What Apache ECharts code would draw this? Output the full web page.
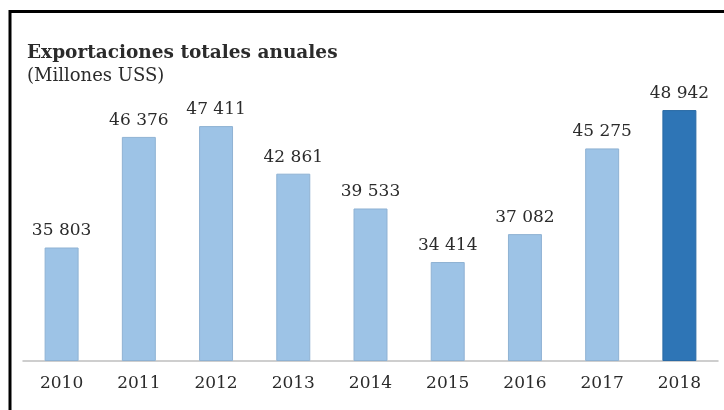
<!DOCTYPE html>
<html>
<head>
<meta charset="utf-8">
<script src="https://cdn.jsdelivr.net/npm/echarts@6/dist/echarts.min.js"></script>
<style>
html,body{margin:0;padding:0;background:#fff;}
#chart{width:724px;height:410px;}
</style>
</head>
<body>
<div id="chart"></div>
<script>
// Annual export totals, millions of US$
const years = ['2010','2011','2012','2013','2014','2015','2016','2017','2018'];
const exportsTotal = [35803, 46376, 47411, 42861, 39533, 34414, 37082, 45275, 48942];
const highlightYear = '2018';

const lightBlue = '#9dc3e6';
const darkBlue = '#2e75b6';
const serif = '"DejaVu Serif", "Liberation Serif", serif';

function groupThousands(v) {
  return String(v).replace(/\B(?=(\d{3})+(?!\d))/g, ' ');
}

const chart = echarts.init(document.getElementById('chart'));
chart.setOption({
  animation: false,
  backgroundColor: '#ffffff',
  title: [
    {
      text: 'Exportaciones totales anuales',
      left: 22, top: 39,
      textStyle: { fontFamily: serif, fontWeight: 'bold', fontSize: 18.5, color: '#2b2b2b' }
    },
    {
      text: '(Millones USS)',
      left: 22, top: 62,
      textStyle: { fontFamily: serif, fontWeight: 'normal', fontSize: 18, color: '#2b2b2b' }
    }
  ],
  graphic: [{
    type: 'rect',
    shape: { x: 10, y: 11.5, width: 760, height: 460 },
    style: { fill: 'none', stroke: '#000000', lineWidth: 3 },
    silent: true
  }],
  grid: { left: 23, right: 6, top: 99, bottom: 49.5 },
  xAxis: {
    type: 'category',
    data: years,
    axisLine: { lineStyle: { color: '#bfbfbf', width: 1.5 } },
    axisTick: { show: false },
    axisLabel: { fontFamily: serif, fontSize: 17, color: '#2b2b2b', margin: 15 }
  },
  yAxis: {
    type: 'value',
    min: 25000, max: 50000,
    show: false,
    splitLine: { show: false }
  },
  series: [{
    type: 'bar',
    barWidth: '44%',
    data: exportsTotal.map((v, i) => ({
      value: v,
      itemStyle: years[i] === highlightYear
        ? { color: darkBlue, borderColor: '#2a6aa5', borderWidth: 1 }
        : { color: lightBlue, borderColor: '#8fb2d3', borderWidth: 1 }
    })),
    label: {
      show: true,
      position: 'top',
      distance: 8,
      fontFamily: serif,
      fontSize: 17,
      color: '#2b2b2b',
      formatter: p => groupThousands(p.value)
    }
  }]
});
</script>
</body>
</html>
